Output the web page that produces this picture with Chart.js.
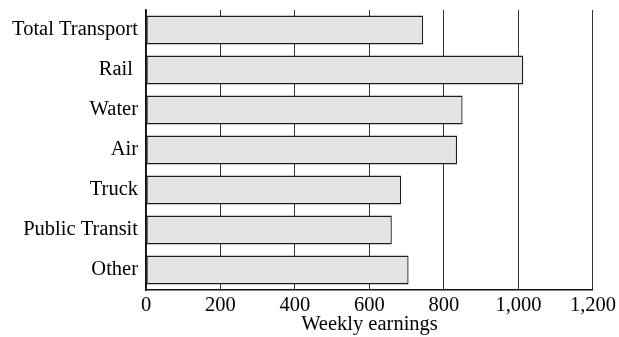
<!DOCTYPE html>
<html>
<head>
<meta charset="utf-8">
<style>
  html, body { margin: 0; padding: 0; background: #ffffff; }
  #wrap { width: 619px; height: 337px; position: relative; }
</style>
<script src="https://cdn.jsdelivr.net/npm/chart.js@4/dist/chart.umd.min.js"></script>
</head>
<body>
<div id="wrap"><canvas id="c" width="619" height="337"></canvas></div>
<script>
// Average weekly earnings by transport sector
const categories = ['Total Transport', 'Rail ', 'Water', 'Air', 'Truck', 'Public Transit', 'Other'];
const weeklyEarnings = [744, 1013, 850, 835, 685, 660, 705];
const xTicks = [0, 200, 400, 600, 800, 1000, 1200];

const serif = "'Liberation Serif', 'Times New Roman', serif";
const fontSize = 20.5;

new Chart(document.getElementById('c'), {
  type: 'bar',
  data: {
    labels: categories,
    datasets: [{
      data: weeklyEarnings,
      backgroundColor: '#e4e4e4',
      borderColor: '#1e1e1e',
      borderWidth: 1.3,
      borderSkipped: false,
      categoryPercentage: 1.0,
      barPercentage: 0.72
    }]
  },
  options: {
    indexAxis: 'y',
    responsive: false,
    animation: false,
    devicePixelRatio: 1,
    layout: { padding: { top: 10, right: 25, left: 0, bottom: 0 } },
    plugins: { legend: { display: false }, tooltip: { enabled: false } },
    scales: {
      x: {
        type: 'linear',
        min: 0,
        max: 1200,
        afterBuildTicks: (axis) => { axis.ticks = xTicks.map(v => ({ value: v })); },
        afterFit: (axis) => { axis.height = 47; },
        ticks: {
          color: '#000',
          padding: 3,
          font: { family: serif, size: fontSize },
          callback: (v) => Number(v).toLocaleString('en-US')
        },
        grid: { display: true, color: '#333', lineWidth: 1, drawTicks: false },
        border: { display: true, color: '#111', width: 1.5 },
        title: {
          display: true,
          text: 'Weekly earnings',
          color: '#000',
          padding: { top: 6, bottom: 0 },
          font: { family: serif, size: fontSize }
        }
      },
      y: {
        afterFit: (axis) => {
          axis.width = 146;
          axis.paddingTop = 0;
          axis.paddingBottom = 0;
        },
        ticks: {
          color: '#000',
          padding: 8,
          font: { family: serif, size: fontSize }
        },
        grid: { display: false, drawTicks: false },
        border: { display: true, color: '#111', width: 1.5 }
      }
    }
  }
});
</script>
</body>
</html>
